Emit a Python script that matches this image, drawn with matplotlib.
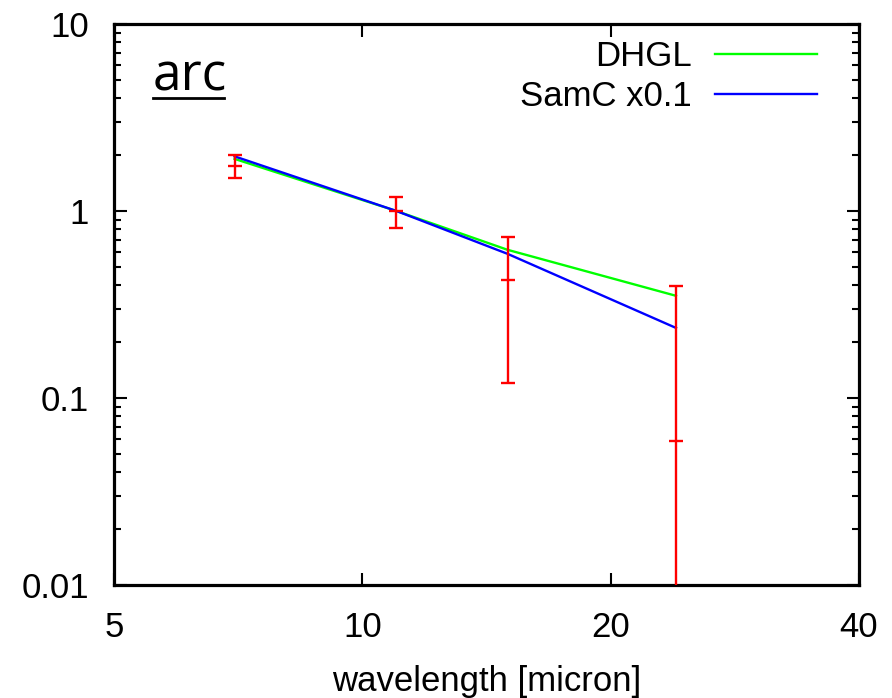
import numpy as np
import matplotlib
matplotlib.use("Agg")
import matplotlib.pyplot as plt
from matplotlib.ticker import FixedLocator, LogLocator, NullFormatter, FixedFormatter

# datos
wavelength = [7.0, 11.0, 15.0, 24.0]
flux = [1.75, 1.0, 0.425, 0.0587]
flux_err = [0.25, 0.185, 0.305, 0.337]
dhgl = [1.90, 1.0, 0.62, 0.352]
samc = [1.96, 1.0, 0.59, 0.237]

x_ticks = [5, 10, 20, 40]
x_ticklabels = ["5", "10", "20", "40"]
y_ticks = [0.01, 0.1, 1, 10]
y_ticklabels = ["0.01", "0.1", "1", "10"]

plt.rcParams['font.family'] = ['Liberation Sans', 'DejaVu Sans']

fig = plt.figure(figsize=(8.92, 6.98), dpi=100)
ax = fig.add_axes([114/892, 1 - 585/698, 745/892, 561/698])

ax.plot(wavelength, dhgl, color="#00ff00", lw=1.7, label="DHGL", zorder=3)
ax.plot(wavelength, samc, color="#0000ff", lw=1.7, label="SamC x0.1", zorder=4)
ax.errorbar(wavelength, flux, yerr=flux_err, fmt="_", color="#ff0000",
            ms=10, mew=1.7, elinewidth=1.7, capsize=5, capthick=1.7, zorder=5)

ax.set_xscale("log", nonpositive="clip")
ax.set_yscale("log", nonpositive="clip")
ax.set_xlim(5, 40)
ax.set_ylim(0.01, 10)

ax.xaxis.set_major_locator(FixedLocator(x_ticks))
ax.xaxis.set_major_formatter(FixedFormatter(x_ticklabels))
ax.xaxis.set_minor_locator(FixedLocator([]))
ax.yaxis.set_major_locator(FixedLocator(y_ticks))
ax.yaxis.set_major_formatter(FixedFormatter(y_ticklabels))
ax.yaxis.set_minor_locator(LogLocator(base=10, subs=np.arange(2, 10), numticks=20))
ax.yaxis.set_minor_formatter(NullFormatter())

ax.tick_params(which="both", direction="in", top=True, right=True, width=1.5, labelsize=25)
ax.tick_params(which="major", length=9)
ax.tick_params(which="minor", length=5)
ax.tick_params(axis="x", pad=19)
ax.tick_params(axis="y", pad=18)
for s in ax.spines.values():
    s.set_linewidth(2.3)

ax.set_xlabel("wavelength [micron]", fontsize=25, labelpad=15)

ax.legend(loc="upper right", bbox_to_anchor=((817 - 114) / 745, (585 - 40) / 561),
          frameon=False, markerfirst=False, fontsize=25, handlelength=2.95,
          handletextpad=0.65, labelspacing=0.2, borderaxespad=0, borderpad=0)

# etiqueta de la region, subrayada
ax.text(0.052, 0.881, "arc", transform=ax.transAxes, fontsize=37,
        family="Open Sans", ha="left", va="baseline")
ax.plot([0.052, 0.148], [0.868, 0.868], transform=ax.transAxes, color="black", lw=2)

fig.savefig("out.png", dpi=100)
